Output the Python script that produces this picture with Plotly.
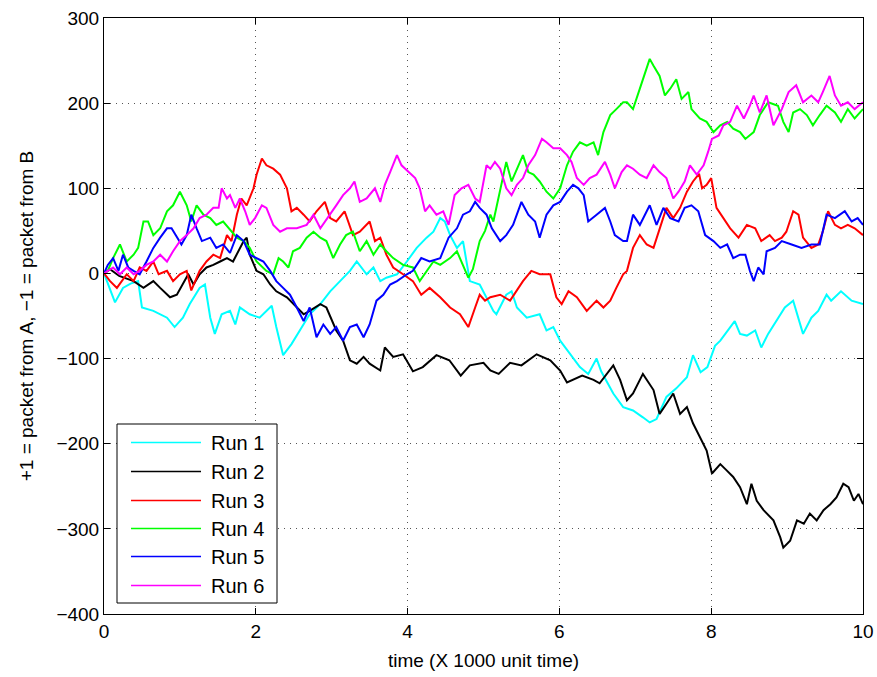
import plotly.graph_objects as go

# Cumulative packet balance for six simulation runs (time in thousands of units)
run1_t = [0, 0.08, 0.145, 0.25, 0.35, 0.45, 0.5, 0.65, 0.83, 0.93, 1.04, 1.13, 1.26, 1.33, 1.40, 1.46, 1.55, 1.66, 1.73,
          1.79, 1.92, 2.05, 2.14, 2.21, 2.27, 2.36, 2.47, 2.58, 2.71, 2.85, 2.98, 3.11, 3.24, 3.33, 3.46, 3.55, 3.64,
          3.72, 3.86, 3.99, 4.12, 4.25, 4.34, 4.43, 4.49, 4.56, 4.65, 4.73, 4.82, 4.95, 5.04, 5.13, 5.17, 5.30, 5.37,
          5.44, 5.57, 5.74, 5.83, 5.92, 6.01, 6.14, 6.27, 6.38, 6.49, 6.55, 6.71, 6.84, 6.97, 7.10, 7.19, 7.28, 7.41,
          7.54, 7.68, 7.76, 7.86, 7.95, 8.05, 8.12, 8.25, 8.31, 8.38, 8.47, 8.58, 8.66, 8.75, 8.88, 8.97, 9.08, 9.21,
          9.32, 9.41, 9.52, 9.58, 9.71, 9.85, 10.0]
run1_v = [0, -20, -34, -17, -12, -9, -40, -44, -52, -63, -52, -36, -17, -13, -52, -71, -48, -44, -60,
          -40, -48, -52, -44, -38, -63, -96, -83, -67, -48, -36, -21, -9, 3, 14, -1, 7, -9,
          -5, -1, 14, 30, 42, 49, 65, 61, 45, 30, 38, -9, -13, -28, -44, -48, -25, -21,
          -40, -52, -48, -67, -63, -79, -95, -110, -118, -100, -115, -141, -157, -161, -169, -175, -171, -145,
          -135, -122, -96, -116, -110, -85, -79, -63, -56, -71, -73, -67, -87, -71, -52, -40, -32, -71,
          -52, -44, -25, -32, -21, -32, -36]

run2_t = [0, 0.08, 0.2, 0.39, 0.52, 0.65, 0.74, 0.87, 0.96, 1.04, 1.11, 1.18, 1.26, 1.35, 1.44, 1.53, 1.62, 1.70, 1.75,
          1.84, 1.88, 1.92, 2.01, 2.10, 2.19, 2.27, 2.41, 2.54, 2.63, 2.71, 2.85, 2.93, 3.06, 3.15, 3.24, 3.33, 3.42,
          3.50, 3.64, 3.70, 3.81, 3.94, 4.07, 4.2, 4.38, 4.55, 4.7, 4.82, 5.0, 5.09, 5.2, 5.35, 5.5, 5.70, 5.88, 6.01,
          6.1, 6.3, 6.45, 6.53, 6.62, 6.71, 6.80, 6.89, 6.97, 7.10, 7.24, 7.32, 7.41, 7.50, 7.59, 7.68, 7.76, 7.85,
          7.94, 8.01, 8.12, 8.20, 8.29, 8.38, 8.47, 8.53, 8.60, 8.69, 8.82, 8.91, 8.95, 9.04, 9.13, 9.22, 9.30, 9.39,
          9.48, 9.57, 9.65, 9.74, 9.81, 9.88, 9.94, 10.0]
run2_v = [0, 5, -3, -9, -17, -9, -17, -28, -25, -13, -1, -13, -1, 7, 10, 14, 18, 14, 22,
          38, 42, 22, 3, -1, -13, -21, -28, -40, -48, -44, -36, -40, -67, -79, -102, -106, -98,
          -106, -114, -87, -98, -95, -115, -110, -96, -102, -120, -108, -105, -114, -118, -105, -108, -95, -102, -114,
          -128, -120, -125, -129, -118, -108, -125, -149, -141, -118, -137, -165, -153, -141, -165, -157, -176, -192,
          -208, -235, -224, -231, -239, -251, -271, -247, -267, -278, -290, -310, -322, -314, -290, -294, -282, -290,
          -278, -271, -263, -247, -251, -267, -259, -271]

run3_t = [0, 0.08, 0.17, 0.30, 0.39, 0.47, 0.56, 0.65, 0.72, 0.83, 0.91, 1.0, 1.09, 1.15, 1.26, 1.35, 1.44, 1.53, 1.62,
          1.68, 1.75, 1.81, 1.88, 1.97, 2.01, 2.08, 2.14, 2.23, 2.32, 2.41, 2.47, 2.54, 2.63, 2.71, 2.80, 2.91, 2.98,
          3.06, 3.17, 3.28, 3.37, 3.50, 3.57, 3.64, 3.72, 3.81, 3.94, 4.07, 4.18, 4.29, 4.43, 4.56, 4.69, 4.80, 4.89,
          4.95, 5.02, 5.09, 5.22, 5.35, 5.52, 5.63, 5.74, 5.88, 5.96, 6.03, 6.12, 6.23, 6.36, 6.49, 6.58, 6.67, 6.75,
          6.84, 6.89, 6.97, 7.06, 7.15, 7.24, 7.32, 7.41, 7.50, 7.59, 7.68, 7.76, 7.84, 7.88, 7.94, 8.00, 8.07, 8.16,
          8.25, 8.36, 8.47, 8.58, 8.66, 8.77, 8.84, 8.93, 8.99, 9.08, 9.15, 9.21, 9.32, 9.41, 9.47, 9.54, 9.63, 9.71,
          9.80, 9.89, 10.0]
run3_v = [0, -9, -17, -1, -9, 7, 3, 14, -1, 3, -9, -1, 3, -20, 3, 14, 22, 18, 45,
          38, 69, 88, 80, 100, 116, 135, 127, 123, 116, 100, 73, 77, 69, 61, 73, 84, 65,
          61, 73, 45, 49, 61, 38, 42, 22, 7, -1, -9, -25, -17, -28, -40, -48, -63, -40,
          -25, -32, -28, -25, -32, -9, 3, -1, -1, -28, -36, -21, -28, -44, -32, -40, -32, -17,
          -1, 3, 30, 45, 34, 30, 53, 77, 65, 77, 96, 108, 117, 100, 104, 112, 77, 65,
          53, 42, 57, 53, 38, 45, 38, 42, 49, 73, 69, 42, 30, 34, 49, 73, 57, 53,
          57, 53, 45]

run4_t = [0, 0.05, 0.12, 0.21, 0.30, 0.39, 0.45, 0.52, 0.58, 0.65, 0.74, 0.83, 0.91, 1.0, 1.09, 1.15, 1.22, 1.31, 1.40,
          1.48, 1.57, 1.66, 1.75, 1.84, 1.92, 2.01, 2.14, 2.23, 2.30, 2.36, 2.43, 2.49, 2.58, 2.67, 2.76, 2.85, 2.93,
          3.02, 3.11, 3.19, 3.28, 3.37, 3.46, 3.55, 3.64, 3.72, 3.81, 3.94, 4.07, 4.16, 4.25, 4.34, 4.43, 4.56, 4.65,
          4.71, 4.80, 4.86, 4.95, 5.02, 5.09, 5.13, 5.22, 5.30, 5.37, 5.44, 5.52, 5.59, 5.66, 5.74, 5.83, 5.92, 6.01,
          6.10, 6.18, 6.27, 6.36, 6.45, 6.51, 6.58, 6.67, 6.75, 6.84, 6.89, 6.97, 7.06, 7.15, 7.19, 7.24, 7.32, 7.39,
          7.46, 7.54, 7.61, 7.70, 7.74, 7.85, 7.94, 8.03, 8.12, 8.21, 8.29, 8.38, 8.45, 8.56, 8.64, 8.75, 8.88, 8.95,
          9.02, 9.08, 9.17, 9.26, 9.34, 9.43, 9.52, 9.63, 9.71, 9.80, 9.89, 10.0]
run4_v = [0, 3, 18, 34, 14, 22, 30, 61, 61, 45, 53, 73, 80, 96, 80, 61, 80, 69, 65,
          57, 61, 51, 42, 38, 30, 14, 3, -1, 18, 14, 7, 26, 30, 42, 49, 42, 38,
          18, 34, 45, 49, 26, 38, 22, 34, 26, 18, 10, 7, -9, 3, 14, 10, 18, 26,
          14, -5, 5, 38, 50, 69, 61, 100, 131, 108, 123, 139, 119, 116, 108, 96, 88, 100,
          127, 143, 154, 150, 154, 139, 166, 186, 193, 201, 201, 193, 217, 240, 252, 244, 232, 209,
          217, 228, 205, 213, 193, 182, 178, 166, 174, 178, 170, 166, 158, 166, 186, 201, 197, 178,
          166, 189, 193, 186, 174, 186, 197, 189, 178, 193, 182, 193]

run5_t = [0, 0.05, 0.12, 0.19, 0.25, 0.32, 0.39, 0.47, 0.56, 0.65, 0.74, 0.83, 0.89, 0.96, 1.02, 1.09, 1.15, 1.22, 1.29,
          1.40, 1.48, 1.57, 1.66, 1.75, 1.84, 1.92, 2.01, 2.10, 2.19, 2.27, 2.36, 2.45, 2.54, 2.63, 2.71, 2.80, 2.89,
          2.98, 3.06, 3.15, 3.24, 3.33, 3.42, 3.50, 3.59, 3.68, 3.77, 3.86, 3.99, 4.07, 4.18, 4.29, 4.43, 4.54, 4.65,
          4.73, 4.82, 4.89, 4.95, 5.04, 5.11, 5.22, 5.30, 5.39, 5.50, 5.59, 5.68, 5.74, 5.83, 5.92, 6.01, 6.10, 6.18,
          6.25, 6.32, 6.38, 6.49, 6.60, 6.67, 6.73, 6.84, 6.89, 6.97, 7.06, 7.19, 7.28, 7.37, 7.46, 7.57, 7.65, 7.74,
          7.83, 7.92, 8.03, 8.12, 8.21, 8.29, 8.38, 8.45, 8.51, 8.56, 8.62, 8.69, 8.73, 8.84, 8.93, 9.06, 9.19, 9.32,
          9.43, 9.52, 9.63, 9.76, 9.85, 9.93, 10.0]
run5_v = [0, 10, 18, 3, 22, 7, 3, -1, 14, 30, 42, 53, 53, 42, 34, 45, 69, 53, 38,
          42, 30, 34, 24, 45, 38, 22, 18, 14, 3, -9, -17, -25, -40, -56, -40, -75, -60,
          -71, -63, -79, -63, -60, -75, -60, -32, -25, -13, -9, -1, 3, 18, 14, 18, 42, 53,
          69, 73, 84, 77, 69, 53, 38, 45, 57, 84, 69, 61, 42, 69, 80, 84, 96, 104,
          100, 92, 61, 69, 77, 61, 45, 38, 38, 69, 57, 80, 57, 77, 65, 61, 77, 80,
          73, 45, 38, 30, 34, 18, 22, 22, 3, -9, 7, -1, 26, 30, 38, 34, 30, 34,
          34, 69, 65, 73, 61, 65, 57]

run6_t = [0, 0.05, 0.12, 0.21, 0.30, 0.39, 0.47, 0.56, 0.65, 0.74, 0.83, 0.91, 1.0, 1.09, 1.18, 1.26, 1.35, 1.44, 1.51,
          1.55, 1.62, 1.66, 1.73, 1.79, 1.86, 1.92, 1.99, 2.08, 2.14, 2.23, 2.32, 2.41, 2.54, 2.67, 2.76, 2.85, 2.98,
          3.06, 3.15, 3.24, 3.30, 3.37, 3.46, 3.57, 3.64, 3.70, 3.77, 3.86, 3.92, 4.01, 4.10, 4.16, 4.23, 4.29, 4.38,
          4.47, 4.54, 4.62, 4.71, 4.80, 4.89, 4.95, 5.04, 5.09, 5.15, 5.22, 5.30, 5.37, 5.44, 5.52, 5.59, 5.68, 5.77,
          5.83, 5.92, 6.01, 6.10, 6.16, 6.23, 6.32, 6.40, 6.49, 6.60, 6.67, 6.73, 6.82, 6.89, 6.97, 7.06, 7.15, 7.24,
          7.32, 7.41, 7.50, 7.57, 7.65, 7.72, 7.81, 7.90, 7.96, 8.01, 8.10, 8.16, 8.25, 8.34, 8.43, 8.51, 8.56, 8.64,
          8.73, 8.82, 8.93, 9.02, 9.12, 9.21, 9.32, 9.41, 9.47, 9.56, 9.63, 9.71, 9.80, 9.89, 10.0]
run6_v = [0, 3, 7, -1, 7, -1, 3, 10, 14, 22, 14, 26, 38, 45, 53, 65, 69, 77, 77,
          100, 88, 92, 77, 88, 73, 57, 65, 80, 77, 57, 49, 53, 53, 57, 69, 53, 69,
          80, 92, 100, 108, 84, 88, 100, 84, 104, 119, 139, 127, 119, 112, 100, 73, 80, 69,
          73, 57, 92, 100, 104, 88, 84, 127, 123, 131, 123, 100, 92, 104, 112, 127, 139, 158,
          154, 147, 147, 139, 131, 112, 104, 112, 116, 131, 116, 100, 119, 127, 123, 116, 112, 127,
          119, 112, 88, 96, 108, 127, 116, 127, 143, 158, 162, 174, 178, 197, 182, 197, 209, 189,
          209, 174, 193, 213, 221, 201, 209, 201, 213, 232, 209, 197, 201, 193, 201]

run_names = ["Run 1", "Run 2", "Run 3", "Run 4", "Run 5", "Run 6"]
run_times = [run1_t, run2_t, run3_t, run4_t, run5_t, run6_t]
run_values = [run1_v, run2_v, run3_v, run4_v, run5_v, run6_v]
run_colors = ["#00FFFF", "#000000", "#FF0000", "#00FF00", "#0000FF", "#FF00FF"]

x_ticks = [0, 2, 4, 6, 8, 10]
y_ticks = [-400, -300, -200, -100, 0, 100, 200, 300]

FONT = "Liberation Sans, Arial, Helvetica, sans-serif"
W, H = 877, 677
ML, MR, MT, MB = 104, 14, 18, 63
PW, PH = W - ML - MR, H - MT - MB

fig = go.Figure()
for name, t, v, c in zip(run_names, run_times, run_values, run_colors):
    fig.add_trace(go.Scatter(x=t, y=v, mode="lines", name=name,
                             line=dict(color=c, width=2), showlegend=False))

axis_style = dict(
    showline=True, linecolor="black", linewidth=1, mirror="ticks",
    ticks="inside", ticklen=6, tickcolor="black", tickwidth=1,
    showgrid=True, gridcolor="#555555", gridwidth=1, griddash="1px,5px",
    zeroline=False, automargin=False,
    tickfont=dict(family=FONT, size=19, color="black"),
)
fig.update_xaxes(range=[0, 10], tickvals=x_ticks,
                 title=dict(text="time (X 1000 unit time)", font=dict(family=FONT, size=19, color="black"),
                            standoff=12),
                 **axis_style)
fig.update_yaxes(range=[-400, 300], tickvals=y_ticks,
                 title=dict(text="+1 = packet from A, \u22121 = packet from B",
                            font=dict(family=FONT, size=19, color="black"), standoff=17),
                 **axis_style)


def px_x(px):
    return (px - ML) / PW


def px_y(py):
    return (H - MB - py) / PH


# Legend box drawn in paper coordinates
shapes = [dict(type="rect", xref="paper", yref="paper",
               x0=px_x(117), x1=px_x(277), y0=px_y(603), y1=px_y(424),
               line=dict(color="black", width=1), fillcolor="white", layer="above")]
annotations = []
for i, (name, c) in enumerate(zip(run_names, run_colors)):
    yy = round(442.5 + 28.5 * i) + 0.5
    shapes.append(dict(type="line", xref="paper", yref="paper",
                       x0=px_x(131), x1=px_x(201), y0=px_y(yy), y1=px_y(yy),
                       line=dict(color=c, width=1.5), layer="above"))
    annotations.append(dict(xref="paper", yref="paper", x=px_x(209), y=px_y(yy),
                            xanchor="left", yanchor="middle", showarrow=False, text=name,
                            font=dict(family=FONT, size=20, color="black")))

fig.update_layout(
    width=W, height=H,
    margin=dict(l=ML, r=MR, t=MT, b=MB),
    paper_bgcolor="white", plot_bgcolor="white",
    shapes=shapes, annotations=annotations,
    showlegend=False,
)

fig.write_html("out.html")
